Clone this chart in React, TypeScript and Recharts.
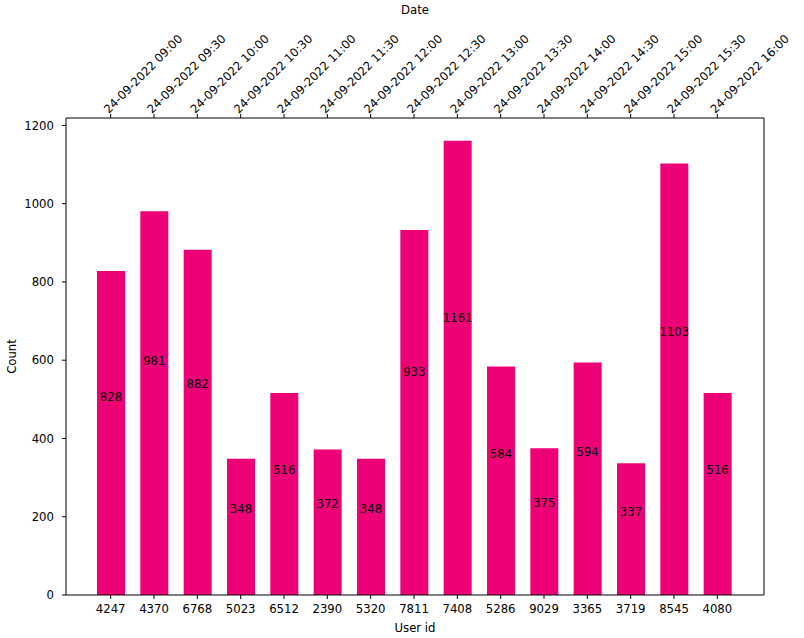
import { Bar, BarChart, LabelList, XAxis, YAxis, Label } from "recharts";

const userIds = ["4247", "4370", "6768", "5023", "6512", "2390", "5320", "7811", "7408", "5286", "9029", "3365", "3719", "8545", "4080"];
const dates = [
  "24-09-2022 09:00", "24-09-2022 09:30", "24-09-2022 10:00", "24-09-2022 10:30", "24-09-2022 11:00",
  "24-09-2022 11:30", "24-09-2022 12:00", "24-09-2022 12:30", "24-09-2022 13:00", "24-09-2022 13:30",
  "24-09-2022 14:00", "24-09-2022 14:30", "24-09-2022 15:00", "24-09-2022 15:30", "24-09-2022 16:00",
];
const counts = [828, 981, 882, 348, 516, 372, 348, 933, 1161, 584, 375, 594, 337, 1103, 516];
const yTicks = [0, 200, 400, 600, 800, 1000, 1200];

const data = userIds.map((id, i) => ({ id, date: dates[i], count: counts[i] }));

const FONT = "'DejaVu Sans', sans-serif";
const FS = 11.7;
const BAR = "#EE0077";

const TopTick = ({ x, y, payload }: any) => (
  <g transform={`translate(${x - 2},${y})`}>
    <text transform="rotate(-45)" textAnchor="start" fontFamily={FONT} fontSize={FS} fill="#000">
      {payload.value}
    </text>
  </g>
);

const ValueLabel = ({ x, y, width, height, value }: any) => (
  <text x={x + width / 2} y={y + height * 0.4} textAnchor="middle" fontFamily={FONT} fontSize={FS} fill="#000">
    {value}
  </text>
);

export default function App() {
  const tickStyle = { fontFamily: FONT, fontSize: FS, fill: "#000" };
  return (
    <div style={{ position: "absolute", left: 0, top: 0, background: "#fff" }}>
      <BarChart width={804} height={638} data={data} margin={{ top: 0, right: 39, bottom: 0, left: 0 }}>
        <XAxis
          dataKey="id"
          height={43}
          padding={{ left: 23, right: 25 }}
          tick={tickStyle}
          tickSize={4}
          tickMargin={6}
          stroke="#000"
          interval={0}
        >
          <Label value="User id" position="insideBottom" offset={6} style={{ fontFamily: FONT, fontSize: FS, fill: "#000" }} />
        </XAxis>
        <XAxis
          xAxisId="top"
          dataKey="date"
          orientation="top"
          height={118}
          padding={{ left: 23, right: 25 }}
          tick={<TopTick />}
          tickSize={4}
          tickMargin={0}
          stroke="#000"
          interval={0}
        >
          <Label value="Date" position="insideTop" offset={6} style={{ fontFamily: FONT, fontSize: FS, fill: "#000" }} />
        </XAxis>
        <YAxis
          width={66}
          domain={[0, 1219]}
          ticks={yTicks}
          tick={tickStyle}
          tickSize={4}
          tickMargin={8}
          stroke="#000"
          allowDataOverflow
        >
          <Label
            content={({ viewBox }: any) => (
              <text
                x={12}
                y={viewBox.y + viewBox.height / 2}
                transform={`rotate(-90, 12, ${viewBox.y + viewBox.height / 2})`}
                textAnchor="middle"
                dominantBaseline="central"
                fontFamily={FONT}
                fontSize={FS}
                fill="#000"
              >
                Count
              </text>
            )}
          />
        </YAxis>
        <YAxis yAxisId="r" orientation="right" width={1} domain={[0, 1219]} tick={false} tickLine={false} stroke="#000" />
        <Bar dataKey="count" fill={BAR} barSize={28} isAnimationActive={false}>
          <LabelList dataKey="count" content={<ValueLabel />} />
        </Bar>
      </BarChart>
    </div>
  );
}
